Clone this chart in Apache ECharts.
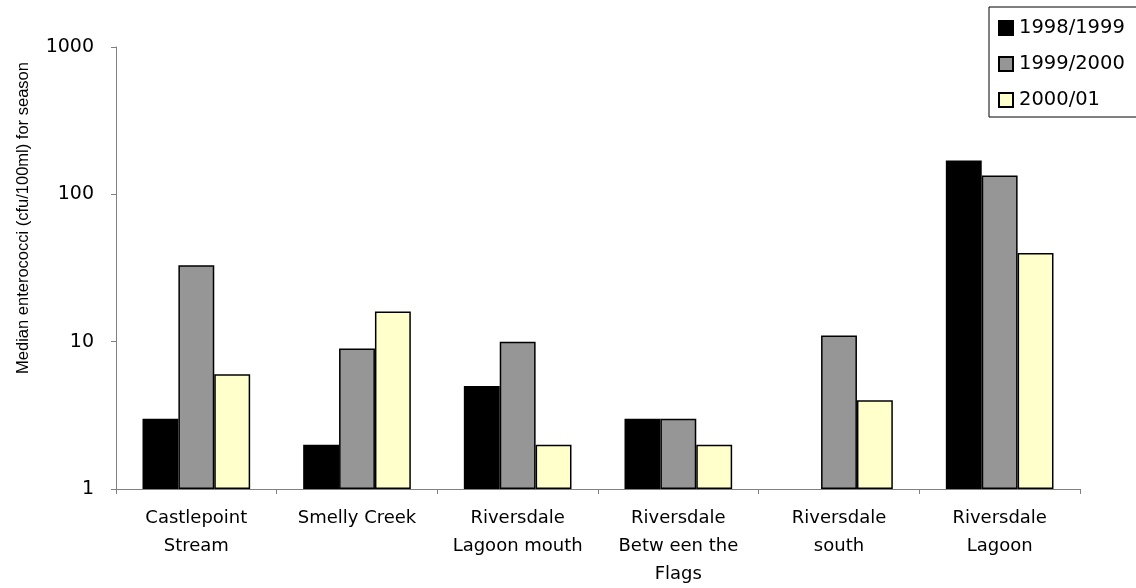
<!DOCTYPE html>
<html>
<head>
<meta charset="utf-8">
<script src="https://cdn.jsdelivr.net/npm/echarts@6/dist/echarts.min.js"></script>
<style>
  html, body { margin: 0; padding: 0; background: #fff; }
  #main { width: 1136px; height: 588px; }
</style>
</head>
<body>
<div id="main"></div>
<script>
const sites = [
  'Castlepoint\nStream',
  'Smelly Creek',
  'Riversdale\nLagoon mouth',
  'Riversdale\nBetw een the\nFlags',
  'Riversdale\nsouth',
  'Riversdale\nLagoon'
];

// median enterococci per season (cfu/100ml), log scale
const season9899 = [3, 2, 5, 3, null, 170];
const season9900 = [33, 9, 10, 3, 11, 134];
const season0001 = [6, 16, 2, 2, 4, 40];

const seasonNames = ['1998/1999', '1999/2000', '2000/01'];

const chart = echarts.init(document.getElementById('main'));

const wideFont = 'DejaVu Sans, Liberation Sans, Arial, sans-serif';

const barStyle = (color) => ({
  color: color,
  borderColor: '#000',
  borderWidth: 1.5
});

const option = {
  animation: false,
  textStyle: { fontFamily: 'Liberation Sans, Arial, sans-serif', color: '#000' },
  grid: {
    left: 116,
    right: 56,
    top: 47,
    bottom: 98
  },
  legend: {
    orient: 'vertical',
    left: 989,
    top: 7,
    padding: [11, 24, 7, 9],
    itemWidth: 14,
    itemHeight: 14,
    itemGap: 16,
    borderColor: '#000',
    borderWidth: 1,
    icon: 'rect',
    textStyle: { fontSize: 19.5, lineHeight: 20, color: '#000', fontFamily: wideFont, padding: [0, 0, 0, 1] },
    data: seasonNames
  },
  xAxis: {
    type: 'category',
    data: sites,
    axisLine: { lineStyle: { color: '#808080', width: 1 } },
    axisTick: { show: true, length: 5, alignWithLabel: false, lineStyle: { color: '#808080' } },
    axisLabel: {
      interval: 0,
      fontSize: 18,
      lineHeight: 28,
      color: '#000',
      fontFamily: wideFont,
      margin: 15
    },
    splitLine: { show: false }
  },
  yAxis: {
    type: 'log',
    logBase: 10,
    min: 1,
    max: 1000,
    name: 'Median enterococci (cfu/100ml) for season',
    nameLocation: 'middle',
    nameGap: 84,
    // shifted toward the top, as in the original
    nameTextStyle: { fontSize: 16.5, color: '#000', padding: [0, 0, 0, 100] },
    axisLine: { show: true, lineStyle: { color: '#808080', width: 1 } },
    axisTick: { show: true, length: 5, lineStyle: { color: '#808080' } },
    axisLabel: {
      fontSize: 19,
      color: '#000',
      fontFamily: wideFont,
      margin: 22,
      formatter: (value) => String(value)
    },
    splitLine: { show: false }
  },
  series: [
    {
      name: seasonNames[0],
      type: 'bar',
      barGap: '0%',
      barCategoryGap: '33%',
      itemStyle: barStyle('#000000'),
      data: season9899
    },
    {
      name: seasonNames[1],
      type: 'bar',
      barGap: '0%',
      barCategoryGap: '33%',
      itemStyle: barStyle('#969696'),
      data: season9900
    },
    {
      name: seasonNames[2],
      type: 'bar',
      barGap: '0%',
      barCategoryGap: '33%',
      itemStyle: barStyle('#FFFFCC'),
      data: season0001
    }
  ]
};

chart.setOption(option);
</script>
</body>
</html>
